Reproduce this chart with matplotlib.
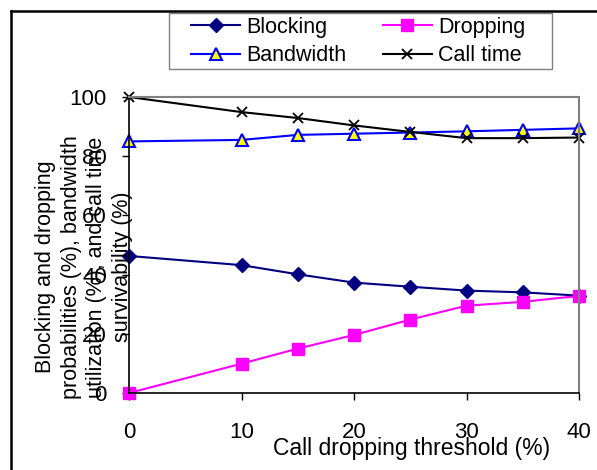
import matplotlib.pyplot as plt
from matplotlib.lines import Line2D
from matplotlib.patches import Rectangle

plt.rcParams['font.family'] = ['Liberation Sans', 'DejaVu Sans']

# data
threshold = [0, 10, 15, 20, 25, 30, 35, 40]
blocking = [46.3, 43.2, 40.1, 37.3, 35.9, 34.6, 34.0, 32.9]
dropping = [0.0, 9.9, 15.0, 19.6, 24.8, 29.5, 30.8, 32.8]
bandwidth = [85.0, 85.5, 87.2, 87.6, 88.0, 88.4, 88.9, 89.4]
call_time = [100.0, 94.9, 92.9, 90.4, 88.2, 86.1, 86.1, 86.3]

W, H = 597, 470
fig = plt.figure(figsize=(W / 100, H / 100), dpi=100)
ax = fig.add_axes([129 / W, 1 - 393 / H, 450 / W, 296 / H])

h_block, = ax.plot(threshold, blocking, color='#000080', lw=1.5, marker='D', ms=7.5,
                   mfc='#000080', mec='#000080', label='Blocking', clip_on=False)
h_drop, = ax.plot(threshold, dropping, color='#FF00FF', lw=1.5, marker='s', ms=8.5,
                  mfc='#FF00FF', mec='#FF00FF', label='Dropping', clip_on=False)
h_bw, = ax.plot(threshold, bandwidth, color='#0000FF', lw=1.5, marker='^', ms=8.5,
                mfc='#FFFF00', mec='#0000FF', mew=1.5, label='Bandwidth', clip_on=False)
h_ct, = ax.plot(threshold, call_time, color='black', lw=1.5, marker='x', ms=7.5,
                mew=1.3, label='Call time', clip_on=False)

ax.set_xlim(0, 40)
ax.set_ylim(0, 100)
ax.set_xticks([0, 10, 20, 30, 40])
ax.set_yticks([0, 20, 40, 60, 80, 100])
ax.tick_params(axis='both', labelsize=16, length=5, width=1, direction='out')
ax.tick_params(axis='x', pad=16)
ax.tick_params(axis='y', pad=11)
for s in ['top', 'right']:
    ax.spines[s].set_color('#808080')
    ax.spines[s].set_linewidth(1.5)
for s in ['left', 'bottom']:
    ax.spines[s].set_color('black')
    ax.spines[s].set_linewidth(1.2)

fig.text(84 / W, 1 - 267 / H,
         'Blocking and dropping\nprobabilities (%), bandwidth\n'
         'utilization (%), and call time\nsurvivability (%)',
         rotation=90, ha='center', va='center', ma='center', fontsize=15.5,
         linespacing=1.28)
fig.text(412 / W, 1 - 449 / H, 'Call dropping threshold (%)',
         ha='center', va='center', fontsize=16.5)

# legend frame drawn by hand, entries placed row-wise
fig.add_artist(Rectangle((169 / W, 1 - 69 / H), 383 / W, 55.5 / H,
                         transform=fig.transFigure, fill=False,
                         edgecolor='#808080', lw=1.0))
leg = ax.legend([h_block, h_bw, h_drop, h_ct],
                ['Blocking', 'Bandwidth', 'Dropping', 'Call time'],
                loc='upper left', ncol=2,
                bbox_to_anchor=(191 / W, 1 - 17 / H),
                bbox_transform=fig.transFigure, borderaxespad=0,
                fontsize=15.5, frameon=False, borderpad=0,
                handlelength=2.28, handletextpad=0.28, labelspacing=0.33,
                columnspacing=1.7)

# outer frame (left and top edges only visible)
fig.add_artist(Line2D([11 / W, 11 / W], [0, 1 - 11 / H],
                      transform=fig.transFigure, color='black', lw=1.8))
fig.add_artist(Line2D([11 / W, 1], [1 - 11 / H, 1 - 11 / H],
                      transform=fig.transFigure, color='black', lw=1.8))

fig.savefig('out.png', dpi=100)
